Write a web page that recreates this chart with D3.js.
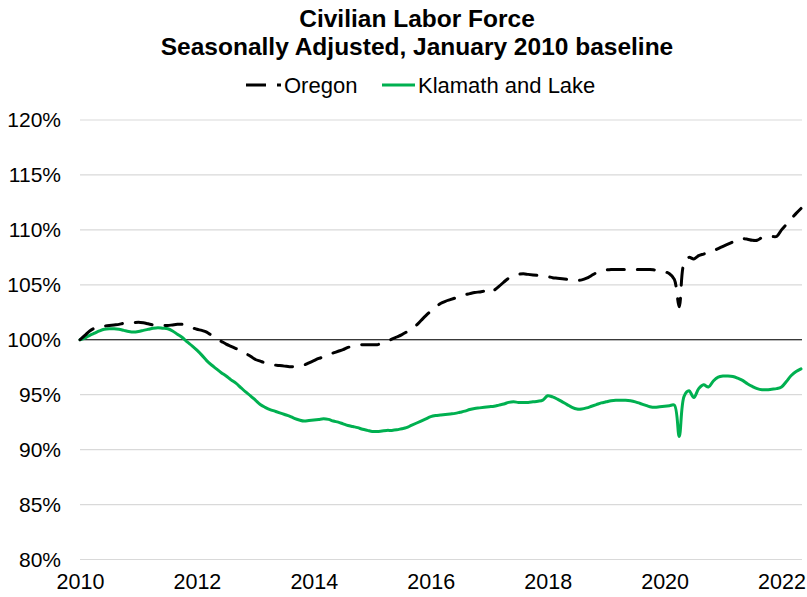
<!DOCTYPE html>
<html>
<head>
<meta charset="utf-8">
<script src="https://cdn.jsdelivr.net/npm/d3@7"></script>
<style>
  body { margin: 0; background: #fff; }
  svg { display: block; font-family: "Liberation Sans", Arial, sans-serif; }
</style>
</head>
<body>
<svg id="chart" width="807" height="597"></svg>
<script>
// ---- Data (monthly, Jan 2010 - May 2022, index: Jan 2010 = 100%) ----
const startYear = 2010;
const yearTicks = [2010, 2012, 2014, 2016, 2018, 2020, 2022];
const yTicks = [80, 85, 90, 95, 100, 105, 110, 115, 120];
const seriesNames = ["Oregon", "Klamath and Lake"];

const oregon = [
  100.0, 100.4, 100.8, 101.05, 101.2, 101.25, 101.3, 101.35, 101.4, 101.5, 101.5, 101.55,
  101.6, 101.55, 101.45, 101.35, 101.3, 101.3, 101.3, 101.35, 101.4, 101.4, 101.25, 101.1,
  100.95, 100.85, 100.7, 100.4, 100.1, 99.85, 99.6, 99.4, 99.2, 99.0, 98.75, 98.5,
  98.2, 98.05, 97.9, 97.8, 97.7, 97.65, 97.6, 97.55, 97.55, 97.6, 97.7, 97.9,
  98.1, 98.3, 98.45, 98.65, 98.8, 98.95, 99.1, 99.3, 99.4, 99.5, 99.55, 99.55,
  99.55, 99.55, 99.7, 99.85, 100.05, 100.25, 100.45, 100.7, 101.0, 101.3, 101.75, 102.2,
  102.6, 102.95, 103.3, 103.5, 103.65, 103.8, 103.95, 104.1, 104.2, 104.3, 104.35, 104.4,
  104.2, 104.5, 104.85, 105.25, 105.6, 105.8, 105.95, 106.0, 105.95, 105.9, 105.85, 105.8,
  105.75, 105.65, 105.6, 105.55, 105.5, 105.45, 105.4, 105.45, 105.6, 105.85, 106.1, 106.25,
  106.35, 106.4, 106.4, 106.4, 106.4, 106.4, 106.4, 106.4, 106.4, 106.4, 106.35, 106.3,
  106.2, 106.0, 105.5, 103.0, 107.0, 107.5, 107.35, 107.65, 107.8, 107.95, 108.1, 108.3,
  108.5, 108.7, 108.9, 109.1, 109.2, 109.15, 109.05, 109.05, 109.3, 109.4, 109.4, 109.4,
  110.0, 110.5, 111.0, 111.5, 111.95
];

const klamath = [
  100.0, 100.15, 100.4, 100.6, 100.8, 100.95, 101.0, 101.0, 100.95, 100.85, 100.75, 100.7,
  100.75, 100.85, 100.95, 101.05, 101.1, 101.05, 101.0, 100.8, 100.5, 100.2, 99.8, 99.45,
  99.05, 98.6, 98.1, 97.7, 97.35, 97.0, 96.7, 96.35, 96.05, 95.65, 95.25, 94.9,
  94.5, 94.1, 93.85, 93.65, 93.5, 93.35, 93.2, 93.05, 92.85, 92.7, 92.6, 92.65,
  92.7, 92.75, 92.8, 92.75, 92.6, 92.5, 92.35, 92.2, 92.1, 92.0, 91.85, 91.75,
  91.65, 91.65, 91.7, 91.75, 91.75, 91.8, 91.9, 92.0, 92.2, 92.4, 92.6, 92.8,
  93.0, 93.1, 93.15, 93.2, 93.25, 93.3, 93.4, 93.5, 93.65, 93.75, 93.8, 93.85,
  93.9, 93.95, 94.05, 94.15, 94.3, 94.35, 94.3, 94.3, 94.3, 94.35, 94.4, 94.5,
  94.9, 94.8, 94.6, 94.35, 94.1, 93.85, 93.7, 93.7, 93.8, 93.95, 94.1, 94.25,
  94.35, 94.45, 94.5, 94.5, 94.5, 94.45, 94.35, 94.2, 94.05, 93.9, 93.85, 93.9,
  93.95, 94.0, 94.05, 91.2, 94.85, 95.35, 94.75, 95.55, 95.9, 95.7, 96.25, 96.6,
  96.7, 96.7, 96.65, 96.5, 96.3, 96.0, 95.75, 95.55, 95.45, 95.45, 95.5, 95.55,
  95.7, 96.2, 96.75, 97.1, 97.35
];

// ---- Layout ----
const svg = d3.select("#chart");
const plotLeft = 80, plotRight = 801, plotTop = 120, plotBottom = 559.5;
const fontFam = "'Liberation Sans', Arial, sans-serif";

const nMonths = oregon.length;
const x = d3.scaleLinear().domain([0, nMonths - 1]).range([plotLeft, plotRight]);
const y = d3.scaleLinear().domain([80, 120]).range([plotBottom, plotTop]);

// Gridlines
svg.append("g").selectAll("line").data(yTicks).join("line")
  .attr("x1", plotLeft).attr("x2", 802)
  .attr("y1", d => y(d)).attr("y2", d => y(d))
  .attr("stroke", "#d9d9d9").attr("stroke-width", 1.2);

// Baseline 100%
svg.append("line")
  .attr("x1", plotLeft).attr("x2", 802)
  .attr("y1", y(100)).attr("y2", y(100))
  .attr("stroke", "#000").attr("stroke-width", 1.2);

// Y axis labels
const yAxis = d3.axisLeft(y).tickValues(yTicks).tickSize(0).tickPadding(0)
  .tickFormat(d => d + "%");
const gy = svg.append("g").attr("transform", `translate(61,0)`).call(yAxis);
gy.select(".domain").remove();
gy.selectAll("text").attr("font-size", 21).attr("fill", "#000")
  .attr("font-family", fontFam);

// X axis labels
const xAxis = d3.axisBottom(x)
  .tickValues(yearTicks.map(yr => (yr - startYear) * 12))
  .tickSize(0).tickPadding(0)
  .tickFormat(m => String(startYear + m / 12));
const gx = svg.append("g").attr("transform", `translate(0,574)`).call(xAxis);
gx.select(".domain").remove();
gx.selectAll("text").attr("font-size", 21.5).attr("fill", "#000")
  .attr("font-family", fontFam);

// Lines
const line = d3.line()
  .x((d, i) => x(i))
  .y(d => y(d))
  .curve(d3.curveCatmullRom.alpha(0.5));

svg.append("path").datum(klamath)
  .attr("d", line).attr("fill", "none")
  .attr("stroke", "#00b050").attr("stroke-width", 3)
  .attr("stroke-linejoin", "round").attr("stroke-linecap", "round");

svg.append("path").datum(oregon)
  .attr("d", line).attr("fill", "none")
  .attr("stroke", "#000").attr("stroke-width", 3)
  .attr("stroke-dasharray", "17,13")
  .attr("stroke-linejoin", "round").attr("stroke-linecap", "round");

// Title
const title = svg.append("text").attr("text-anchor", "middle")
  .attr("font-weight", "bold").attr("font-size", 24.5).attr("fill", "#000")
  .attr("font-family", fontFam);
title.append("tspan").attr("x", 417).attr("y", 27).text("Civilian Labor Force");
title.append("tspan").attr("x", 417).attr("y", 55).text("Seasonally Adjusted, January 2010 baseline");

// Legend
const lg = svg.append("g").attr("font-family", fontFam);
lg.append("line").attr("x1", 246).attr("x2", 281).attr("y1", 85).attr("y2", 85)
  .attr("stroke", "#000").attr("stroke-width", 3).attr("stroke-dasharray", "20,11");
lg.append("text").attr("x", 284).attr("y", 93).attr("font-size", 22).text(seriesNames[0]);
lg.append("line").attr("x1", 382).attr("x2", 415).attr("y1", 85).attr("y2", 85)
  .attr("stroke", "#00b050").attr("stroke-width", 3);
lg.append("text").attr("x", 418).attr("y", 93).attr("font-size", 22).text(seriesNames[1]);
</script>
</body>
</html>
